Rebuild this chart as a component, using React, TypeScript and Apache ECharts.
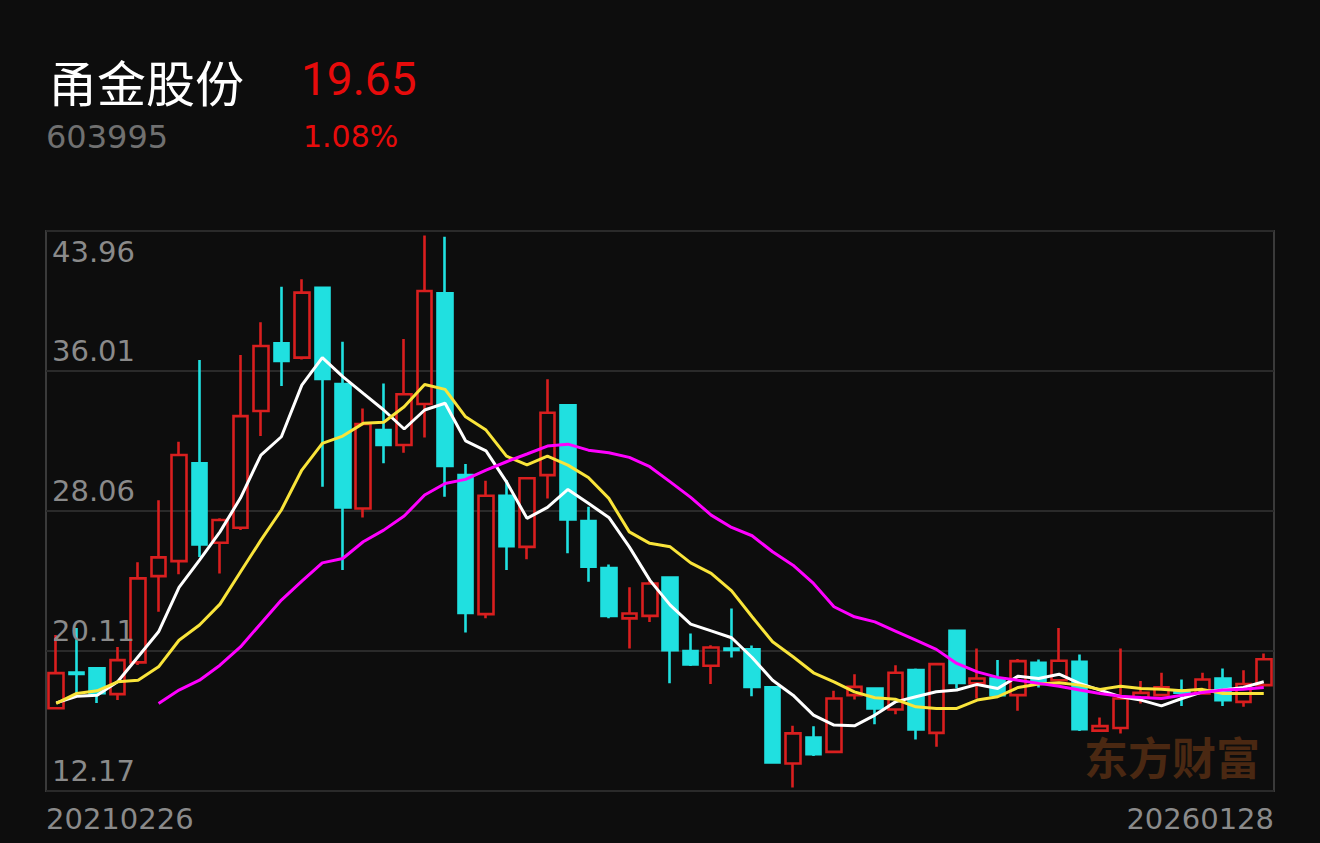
import React, { useEffect, useRef } from "react";
import * as echarts from "echarts";

const BG = "#0d0d0d";
const UP = "#d91f1f";
const DOWN = "#20e0e0";

const stockName = "甬金股份";
const stockCode = "603995";
const lastPrice = "19.65";
const changePct = "1.08%";
const watermark = "东方财富";

const months = [
  "2021-02", "2021-03", "2021-04", "2021-05", "2021-06", "2021-07", "2021-08", "2021-09", "2021-10", "2021-11", "2021-12",
  "2022-01", "2022-02", "2022-03", "2022-04", "2022-05", "2022-06", "2022-07", "2022-08", "2022-09", "2022-10", "2022-11", "2022-12",
  "2023-01", "2023-02", "2023-03", "2023-04", "2023-05", "2023-06", "2023-07", "2023-08", "2023-09", "2023-10", "2023-11", "2023-12",
  "2024-01", "2024-02", "2024-03", "2024-04", "2024-05", "2024-06", "2024-07", "2024-08", "2024-09", "2024-10", "2024-11", "2024-12",
  "2025-01", "2025-02", "2025-03", "2025-04", "2025-05", "2025-06", "2025-07", "2025-08", "2025-09", "2025-10", "2025-11", "2025-12",
  "2026-01",
];

const opens = [16.87, 18.9, 19.14, 17.67, 19.47, 24.37, 25.22, 30.77, 26.26, 27.11, 33.74, 37.58, 36.77, 40.74, 35.27, 28.21, 32.66, 31.81, 34.14, 40.42, 30.1, 22.21, 28.93, 26.03, 30.1, 34.06, 27.49, 24.82, 21.97, 22.11, 24.29, 20.11, 19.28, 20.25, 20.21, 18.05, 13.73, 15.21, 14.39, 17.61, 17.99, 16.8, 19.03, 15.47, 21.26, 18.28, 18.56, 17.61, 19.45, 18.46, 19.5, 15.6, 15.75, 17.48, 17.61, 17.89, 17.71, 18.56, 17.23, 18.18];
const closes = [18.86, 18.82, 17.72, 19.6, 24.24, 25.43, 31.24, 26.17, 27.55, 33.45, 37.43, 36.59, 40.46, 35.56, 28.27, 33.0, 31.81, 34.69, 40.55, 30.62, 22.28, 28.93, 26.07, 29.92, 33.64, 27.59, 24.9, 22.11, 22.25, 23.95, 20.17, 19.35, 20.32, 20.18, 18.08, 13.79, 15.44, 14.26, 17.42, 18.08, 16.86, 18.88, 15.66, 19.37, 18.31, 18.56, 17.61, 19.54, 18.31, 19.56, 15.68, 15.85, 17.42, 17.74, 18.05, 17.75, 18.5, 17.33, 18.24, 19.65];
const lows = [16.8, 17.72, 17.16, 17.33, 19.32, 22.34, 24.47, 25.46, 24.52, 26.98, 32.32, 35.16, 36.67, 29.44, 24.71, 27.7, 30.77, 31.37, 32.24, 28.87, 21.17, 21.97, 24.71, 25.32, 28.78, 25.66, 24.05, 21.97, 20.26, 21.77, 18.28, 19.26, 18.24, 19.75, 17.55, 13.75, 12.37, 14.16, 14.39, 17.37, 15.96, 16.53, 15.1, 14.68, 17.99, 17.42, 17.55, 16.72, 18.05, 18.44, 15.58, 15.57, 15.44, 17.14, 17.55, 16.99, 17.65, 16.99, 16.95, 18.18];
const highs = [21.02, 21.43, 19.2, 20.35, 25.15, 28.68, 32.0, 36.63, 27.65, 36.92, 38.78, 40.8, 41.22, 40.78, 37.67, 33.89, 35.31, 37.83, 43.7, 43.64, 30.73, 29.78, 29.82, 29.97, 35.54, 34.1, 28.3, 25.03, 23.73, 24.1, 24.33, 21.11, 20.45, 22.53, 20.43, 18.1, 15.87, 15.85, 17.86, 18.8, 18.02, 19.31, 19.13, 19.45, 21.3, 20.26, 19.6, 19.66, 19.64, 21.43, 19.92, 16.34, 20.26, 18.41, 18.88, 18.5, 18.88, 19.13, 19.03, 19.98];

const ma5 = [17.17, 17.55, 17.61, 18.37, 19.79, 21.21, 23.73, 25.28, 26.88, 28.8, 31.24, 32.28, 35.21, 36.77, 35.69, 34.74, 33.8, 32.72, 33.8, 34.18, 32.05, 31.48, 29.72, 27.65, 28.27, 29.29, 28.5, 27.7, 26.03, 24.14, 22.72, 21.64, 21.26, 20.87, 19.75, 18.46, 17.61, 16.48, 15.91, 15.87, 16.48, 17.23, 17.52, 17.8, 17.9, 18.22, 17.99, 18.69, 18.56, 18.8, 18.28, 17.9, 17.52, 17.33, 17.0, 17.42, 17.8, 17.9, 18.05, 18.37];
const ma10 = [17.14, 17.71, 17.86, 18.37, 18.46, 19.22, 20.73, 21.59, 22.78, 24.6, 26.41, 28.12, 30.39, 31.9, 32.32, 33.04, 33.1, 33.98, 35.25, 34.97, 33.41, 32.66, 31.18, 30.69, 31.18, 30.67, 29.97, 28.78, 26.88, 26.23, 26.03, 25.12, 24.52, 23.53, 22.06, 20.64, 19.79, 18.88, 18.37, 17.8, 17.46, 17.38, 16.95, 16.86, 16.86, 17.33, 17.52, 18.05, 18.24, 18.31, 18.18, 17.94, 18.12, 17.99, 17.94, 17.86, 17.94, 17.71, 17.71, 17.71];
const ma20 = [null, null, null, null, null, 17.14, 17.9, 18.46, 19.31, 20.35, 21.68, 23.01, 24.08, 25.12, 25.37, 26.32, 26.98, 27.78, 28.97, 29.63, 29.86, 30.39, 30.86, 31.3, 31.75, 31.86, 31.52, 31.37, 31.11, 30.58, 29.72, 28.84, 27.83, 27.13, 26.66, 25.75, 24.99, 23.95, 22.63, 22.06, 21.77, 21.25, 20.73, 20.21, 19.41, 18.93, 18.62, 18.46, 18.28, 18.12, 17.9, 17.71, 17.55, 17.48, 17.42, 17.61, 17.76, 17.9, 17.95, 18.05];

const yMin = 12.17;
const yMax = 43.96;
const yTickValues = [12.17, 20.11, 28.06, 36.01, 43.96];
const yTickLabels = ["12.17", "20.11", "28.06", "36.01", "43.96"];
const xEndLabels = ["20210226", "20260128"];

const LABEL_FONT = "'DejaVu Sans', sans-serif";
const CJK_FONT = "'Noto Sans CJK SC', sans-serif";

export default function App() {
  const ref = useRef<HTMLDivElement>(null);

  useEffect(() => {
    document.body.style.margin = "0";
    document.body.style.background = BG;
    const chart = echarts.init(ref.current as HTMLDivElement, null, { renderer: "svg" });

    const candleData = opens.map((o, i) => [o, closes[i], lows[i], highs[i]]);

    const option: any = {
      animation: false,
      backgroundColor: BG,
      grid: {
        left: 46,
        right: 46,
        top: 231,
        bottom: 52,
        show: true,
        borderColor: "#3a3a3a",
        borderWidth: 2,
        backgroundColor: "transparent",
      },
      xAxis: {
        type: "category",
        data: months,
        boundaryGap: true,
        axisLine: { show: false },
        axisTick: { show: false },
        axisLabel: { show: false },
        splitLine: { show: false },
      },
      yAxis: [
        {
          type: "value",
          min: yMin,
          max: yMax,
          show: false,
          splitLine: { show: false },
        },
        {
          type: "value",
          min: 0,
          max: 4,
          interval: 1,
          position: "left",
          axisLine: { show: false },
          axisTick: { show: false },
          axisLabel: { show: false },
          splitLine: { show: true, lineStyle: { color: "#2a2a2a", width: 2 } },
        },
      ],
      series: [
        {
          type: "candlestick",
          data: candleData,
          barWidth: 15,
          yAxisIndex: 0,
          itemStyle: {
            color: "transparent",
            color0: DOWN,
            borderColor: UP,
            borderColor0: DOWN,
            borderWidth: 2.6,
          },
          z: 2,
        },
        {
          type: "line",
          data: ma5,
          yAxisIndex: 0,
          symbol: "none",
          showSymbol: false,
          lineStyle: { color: "#ffffff", width: 3 },
          z: 3,
        },
        {
          type: "line",
          data: ma10,
          yAxisIndex: 0,
          symbol: "none",
          showSymbol: false,
          lineStyle: { color: "#f9e43a", width: 3 },
          z: 4,
        },
        {
          type: "line",
          data: ma20,
          yAxisIndex: 0,
          symbol: "none",
          showSymbol: false,
          lineStyle: { color: "#ff00ff", width: 3 },
          z: 5,
        },
      ],
    };

    chart.setOption(option);

    const yPx = (v: number) => chart.convertToPixel({ yAxisIndex: 0 }, v) as number;
    const xA = chart.convertToPixel({ xAxisIndex: 0 }, months[0]) as number;
    const xB = chart.convertToPixel({ xAxisIndex: 0 }, months[1]) as number;
    const xZ = chart.convertToPixel({ xAxisIndex: 0 }, months[months.length - 1]) as number;
    const band = xB - xA;
    const gridLeft = xA - band / 2;
    const gridRight = xZ + band / 2;
    const gridBottom = yPx(yMin);

    const txt = (text: string, x: number, y: number, fill: string, size: number, family: string, align = "left", weight = "normal") => ({
      type: "text",
      x,
      y,
      z: 10,
      silent: true,
      style: {
        text,
        fill,
        fontSize: size,
        fontFamily: family,
        fontWeight: weight,
        align,
        verticalAlign: "middle",
        textAlign: align,
        textVerticalAlign: "middle",
      },
    });

    const graphics: any[] = [
      txt(stockName, 48, 80, "#ffffff", 49, CJK_FONT),
      txt(lastPrice, 301, 78.5, "#e60b0b", 46, "Roboto, sans-serif"),
      txt(stockCode, 46, 137, "#707070", 32, LABEL_FONT),
      txt(changePct, 303, 136, "#e60b0b", 30, LABEL_FONT),
    ];

    yTickValues.forEach((v, i) => {
      const py = yPx(v);
      const y = v === yMax ? py + 21 : py - 20;
      graphics.push(txt(yTickLabels[i], gridLeft + 6, y, "#8a8a8a", 29, LABEL_FONT));
    });

    graphics.push(txt(xEndLabels[0], gridLeft, gridBottom + 28, "#8a8a8a", 29, LABEL_FONT, "left"));
    graphics.push(txt(xEndLabels[1], gridRight, gridBottom + 28, "#8a8a8a", 29, LABEL_FONT, "right"));

    const wm = txt(watermark, 1260, 756, "#4a2812", 44, CJK_FONT, "right", "bold");
    (wm as any).z = 1;
    graphics.push(wm);

    chart.setOption({ graphic: graphics });

    return () => {
      chart.dispose();
    };
  }, []);

  return <div ref={ref} style={{ width: 1320, height: 843 }} />;
}
